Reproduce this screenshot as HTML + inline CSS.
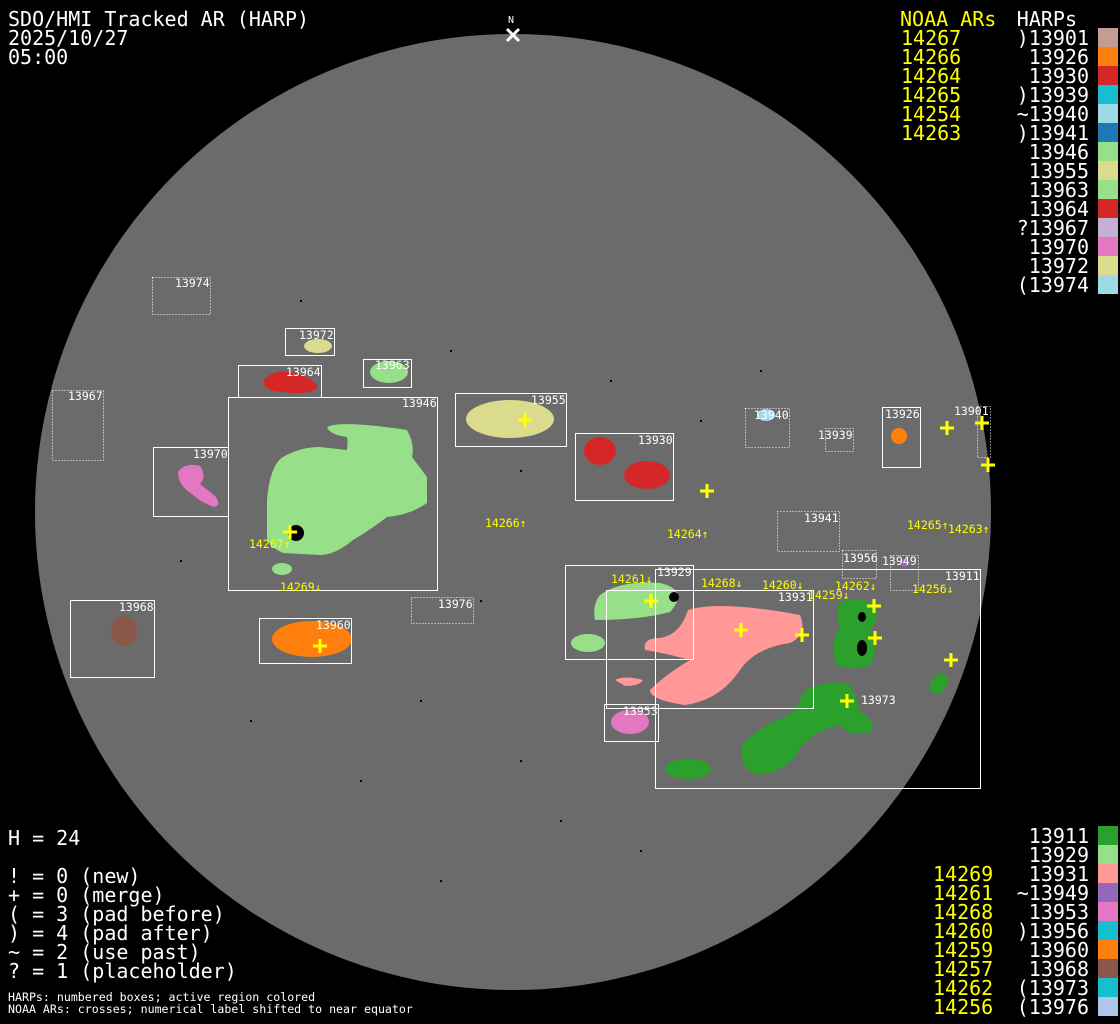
<!DOCTYPE html>
<html><head><meta charset="utf-8"><style>
html,body{margin:0;padding:0;background:#000;width:1120px;height:1024px;overflow:hidden}
svg{display:block}
.m{font-family:"DejaVu Sans Mono","Liberation Mono",monospace}
</style></head><body>
<svg width="1120" height="1024" xmlns="http://www.w3.org/2000/svg" class="m">
<rect width="1120" height="1024" fill="#000"/>
<circle cx="513" cy="512" r="478" fill="#6b6b6b"/>
<g fill="#000">
<rect x="300" y="300" width="2" height="2"/><rect x="450" y="350" width="2" height="2"/><rect x="520" y="470" width="2" height="2"/><rect x="610" y="380" width="2" height="2"/><rect x="700" y="420" width="2" height="2"/><rect x="480" y="600" width="2" height="2"/><rect x="420" y="700" width="2" height="2"/><rect x="520" y="760" width="2" height="2"/><rect x="360" y="780" width="2" height="2"/><rect x="250" y="720" width="2" height="2"/><rect x="560" y="820" width="2" height="2"/><rect x="640" y="850" width="2" height="2"/><rect x="440" y="880" width="2" height="2"/><rect x="180" y="560" width="2" height="2"/><rect x="760" y="370" width="2" height="2"/>
</g>
<ellipse cx="318" cy="346" rx="14" ry="7" fill="#dbdb8d"/>
<path d="M264 380 Q275 368 295 373 Q315 378 318 388 Q305 396 285 392 Q262 392 264 380Z" fill="#d62728"/>
<ellipse cx="389" cy="372" rx="19" ry="11" fill="#98df8a"/>
<path d="M327 427 Q340 420 407 430 Q415 445 412 457 L427 477 L427 503 Q410 515 387 517 Q370 530 353 540 Q335 555 320 555 L283 553 Q265 545 267 533 L267 500 Q270 465 283 457 Q300 447 320 447 L347 450 Q348 440 347 437 Q330 435 327 427Z" fill="#98df8a"/>
<ellipse cx="282" cy="569" rx="10" ry="6" fill="#98df8a"/>
<circle cx="296" cy="533" r="8" fill="#000"/>
<path d="M178 472 Q185 462 200 466 Q207 476 200 484 L215 496 Q222 505 214 507 Q200 502 192 494 Q178 486 178 472Z" fill="#e377c2"/>
<ellipse cx="510" cy="419" rx="44" ry="19" fill="#dbdb8d"/>
<ellipse cx="600" cy="451" rx="16" ry="14" fill="#d62728"/>
<ellipse cx="647" cy="475" rx="23" ry="14" fill="#d62728"/>
<ellipse cx="766" cy="415" rx="9" ry="6" fill="#9edae5"/>
<circle cx="899" cy="436" r="8" fill="#ff7f0e"/>
<ellipse cx="124" cy="631" rx="13" ry="15" fill="#8c564b"/>
<ellipse cx="312" cy="639" rx="40" ry="18" fill="#ff7f0e"/>
<path d="M600 595 Q620 580 660 583 Q690 590 670 612 Q640 620 595 620 Q592 605 600 595Z" fill="#98df8a"/>
<ellipse cx="588" cy="643" rx="17" ry="9" fill="#98df8a"/>
<path d="M688 610 Q720 600 800 615 Q808 635 790 643 Q755 648 740 670 Q720 700 685 705 Q650 700 650 690 Q665 675 690 660 Q660 652 645 650 Q642 638 660 638 Q680 635 688 610Z" fill="#ff9896"/>
<path d="M615 680 Q625 675 643 680 Q640 686 625 686Z" fill="#ff9896"/>
<ellipse cx="630" cy="722" rx="19" ry="12" fill="#e377c2"/>
<path d="M840 602 Q860 595 875 605 Q880 620 870 630 Q880 650 870 665 Q850 672 836 665 Q830 640 840 628 Q835 612 840 602Z" fill="#2ca02c"/>
<path d="M805 690 Q830 678 850 685 Q858 700 860 712 Q878 722 870 732 Q850 738 840 725 Q815 730 800 748 Q790 770 760 775 Q738 770 742 745 Q760 725 790 715 Q800 700 805 690Z" fill="#2ca02c"/>
<ellipse cx="688" cy="769" rx="23" ry="10" fill="#2ca02c"/>
<ellipse cx="939" cy="684" rx="8" ry="11" fill="#2ca02c" transform="rotate(35 939 684)"/>
<ellipse cx="905" cy="563" rx="4" ry="4" fill="#9467bd"/>
<circle cx="674" cy="597" r="5" fill="#000"/>
<ellipse cx="862" cy="648" rx="5" ry="8" fill="#000"/>
<ellipse cx="862" cy="617" rx="4" ry="5" fill="#000"/>
<g fill="none" stroke="#fff" stroke-width="1">
<rect x="285.5" y="328.5" width="49" height="27"/>
<rect x="238.5" y="365.5" width="83" height="32"/>
<rect x="363.5" y="359.5" width="48" height="28"/>
<rect x="228.5" y="397.5" width="209" height="193"/>
<rect x="455.5" y="393.5" width="111" height="53"/>
<rect x="575.5" y="433.5" width="98" height="67"/>
<rect x="882.5" y="407.5" width="38" height="60"/>
<rect x="153.5" y="447.5" width="75" height="69"/>
<rect x="70.5" y="600.5" width="84" height="77"/>
<rect x="259.5" y="618.5" width="92" height="45"/>
<rect x="565.5" y="565.5" width="128" height="94"/>
<rect x="606.5" y="590.5" width="207" height="118"/>
<rect x="655.5" y="569.5" width="325" height="219"/>
<rect x="604.5" y="704.5" width="54" height="37"/>
</g>
<g fill="none" stroke="#fff" stroke-width="1" stroke-dasharray="1,2">
<rect x="152.5" y="277.5" width="58" height="37"/>
<rect x="52.5" y="390.5" width="51" height="70"/>
<rect x="745.5" y="408.5" width="44" height="39"/>
<rect x="825.5" y="428.5" width="28" height="23"/>
<rect x="977.5" y="406.5" width="13" height="51"/>
<rect x="777.5" y="511.5" width="62" height="40"/>
<rect x="411.5" y="597.5" width="62" height="26"/>
<rect x="842.5" y="550.5" width="34" height="28"/>
<rect x="890.5" y="555.5" width="28" height="35"/>
</g>
<g fill="#fff" font-size="11.5">
<text x="175" y="287">13974</text><text x="299" y="339">13972</text><text x="286" y="376">13964</text><text x="375" y="369">13963</text>
<text x="68" y="400">13967</text><text x="402" y="407">13946</text><text x="531" y="404">13955</text><text x="638" y="444">13930</text>
<text x="754" y="419">13940</text><text x="818" y="439">13939</text><text x="885" y="418">13926</text><text x="954" y="415">13901</text>
<text x="193" y="458">13970</text><text x="804" y="522">13941</text><text x="119" y="611">13968</text><text x="316" y="629">13960</text>
<text x="438" y="608">13976</text><text x="657" y="576">13929</text><text x="778" y="601">13931</text><text x="945" y="580">13911</text>
<text x="623" y="715">13953</text><text x="861" y="704">13973</text><text x="843" y="562">13956</text><text x="882" y="565">13949</text>
</g>
<g fill="#ffff00" font-size="11.5">
<text x="485" y="527">14266↑</text><text x="667" y="538">14264↑</text><text x="907" y="529">14265↑</text><text x="948" y="533">14263↑</text>
<text x="249" y="548">14267↑</text><text x="280" y="591">14269↓</text><text x="611" y="583">14261↓</text><text x="701" y="587">14268↓</text>
<text x="762" y="589">14260↓</text><text x="808" y="599">14259↓</text><text x="835" y="590">14262↓</text><text x="912" y="593">14256↓</text>
</g>
<g stroke="#ffff00" stroke-width="3">
<path d="M283 532h14M290 525v14"/><path d="M313 646h14M320 639v14"/><path d="M518 420h14M525 413v14"/>
<path d="M700 491h14M707 484v14"/><path d="M644 601h14M651 594v14"/><path d="M734 630h14M741 623v14"/>
<path d="M795 635h14M802 628v14"/><path d="M867 606h14M874 599v14"/><path d="M868 638h14M875 631v14"/>
<path d="M840 701h14M847 694v14"/><path d="M944 660h14M951 653v14"/><path d="M940 428h14M947 421v14"/>
<path d="M975 423h14M982 416v14"/><path d="M981 465h14M988 458v14"/>
</g>
<path d="M507 29l12 12M519 29l-12 12" stroke="#fff" stroke-width="3"/>
<text x="508" y="23" fill="#fff" font-size="10">N</text>
<g fill="#fff" font-size="20">
<text x="8" y="26">SDO/HMI Tracked AR (HARP)</text><text x="8" y="45">2025/10/27</text><text x="8" y="64">05:00</text>
<text x="8" y="845">H = 24</text>
<text x="8" y="883">! = 0 (new)</text><text x="8" y="902">+ = 0 (merge)</text><text x="8" y="921">( = 3 (pad before)</text>
<text x="8" y="940">) = 4 (pad after)</text><text x="8" y="959">~ = 2 (use past)</text><text x="8" y="978">? = 1 (placeholder)</text>
</g>
<g fill="#fff" font-size="11.6"><text x="8" y="1001">HARPs: numbered boxes; active region colored</text><text x="8" y="1013">NOAA ARs: crosses; numerical label shifted to near equator</text></g>
<g fill="#ffff00" font-size="20">
<text x="900" y="26">NOAA ARs</text>
<text x="901" y="45">14267</text><text x="901" y="64">14266</text><text x="901" y="83">14264</text><text x="901" y="102">14265</text><text x="901" y="121">14254</text><text x="901" y="140">14263</text>
<text x="933" y="881">14269</text><text x="933" y="900">14261</text><text x="933" y="919">14268</text><text x="933" y="938">14260</text><text x="933" y="957">14259</text><text x="933" y="976">14257</text><text x="933" y="995">14262</text><text x="933" y="1014">14256</text>
</g>
<g fill="#fff" font-size="20" text-anchor="end">
<text x="1077" y="26">HARPs</text>
<text x="1089" y="45">)13901</text><text x="1089" y="64">13926</text><text x="1089" y="83">13930</text><text x="1089" y="102">)13939</text><text x="1089" y="121">~13940</text><text x="1089" y="140">)13941</text><text x="1089" y="159">13946</text><text x="1089" y="178">13955</text><text x="1089" y="197">13963</text><text x="1089" y="216">13964</text><text x="1089" y="235">?13967</text><text x="1089" y="254">13970</text><text x="1089" y="273">13972</text><text x="1089" y="292">(13974</text>
<text x="1089" y="843">13911</text><text x="1089" y="862">13929</text><text x="1089" y="881">13931</text><text x="1089" y="900">~13949</text><text x="1089" y="919">13953</text><text x="1089" y="938">)13956</text><text x="1089" y="957">13960</text><text x="1089" y="976">13968</text><text x="1089" y="995">(13973</text><text x="1089" y="1014">(13976</text>
</g>
<g>
<rect x="1098" y="28" width="20" height="19" fill="#c49c94"/><rect x="1098" y="47" width="20" height="19" fill="#ff7f0e"/><rect x="1098" y="66" width="20" height="19" fill="#d62728"/><rect x="1098" y="85" width="20" height="19" fill="#17becf"/><rect x="1098" y="104" width="20" height="19" fill="#9edae5"/><rect x="1098" y="123" width="20" height="19" fill="#1f77b4"/><rect x="1098" y="142" width="20" height="19" fill="#98df8a"/><rect x="1098" y="161" width="20" height="19" fill="#dbdb8d"/><rect x="1098" y="180" width="20" height="19" fill="#98df8a"/><rect x="1098" y="199" width="20" height="19" fill="#d62728"/><rect x="1098" y="218" width="20" height="19" fill="#c5b0d5"/><rect x="1098" y="237" width="20" height="19" fill="#e377c2"/><rect x="1098" y="256" width="20" height="19" fill="#dbdb8d"/><rect x="1098" y="275" width="20" height="19" fill="#9edae5"/>
<rect x="1098" y="826" width="20" height="19" fill="#2ca02c"/><rect x="1098" y="845" width="20" height="19" fill="#98df8a"/><rect x="1098" y="864" width="20" height="19" fill="#ff9896"/><rect x="1098" y="883" width="20" height="19" fill="#9467bd"/><rect x="1098" y="902" width="20" height="19" fill="#e377c2"/><rect x="1098" y="921" width="20" height="19" fill="#17becf"/><rect x="1098" y="940" width="20" height="19" fill="#ff7f0e"/><rect x="1098" y="959" width="20" height="19" fill="#8c564b"/><rect x="1098" y="978" width="20" height="19" fill="#17becf"/><rect x="1098" y="997" width="20" height="19" fill="#aec7e8"/>
</g>
</svg>
</body></html>
